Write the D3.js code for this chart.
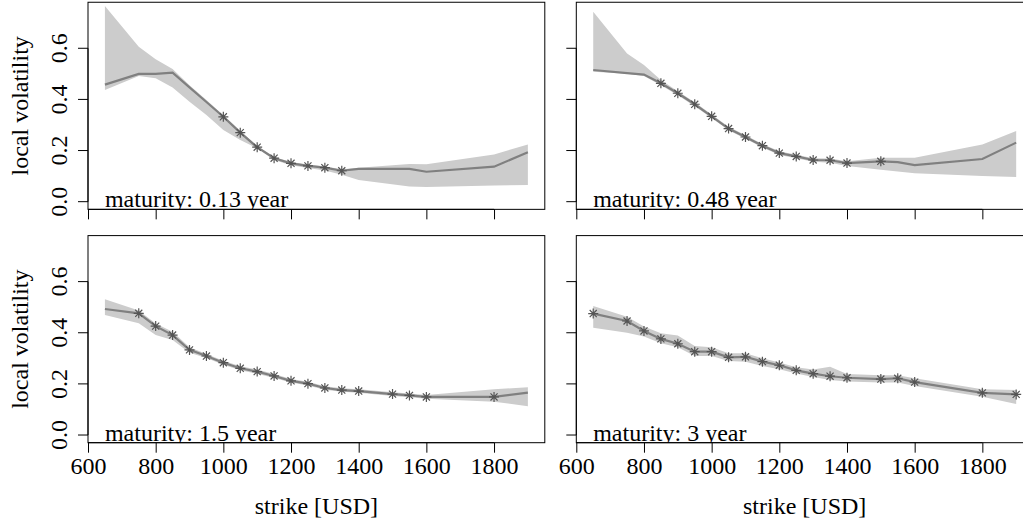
<!DOCTYPE html>
<html>
<head>
<meta charset="utf-8">
<script src="https://cdn.jsdelivr.net/npm/d3@7"></script>
<style>
  body { margin: 0; background: #fff; }
  svg text { font-family: "Liberation Serif", Tinos, "Times New Roman", "DejaVu Serif", serif !important; }
</style>
</head>
<body>
<div id="chart"></div>
<script>
var svgWidth = 1023;
var svgHeight = 523;
var serif = "'Liberation Serif', Tinos, 'Times New Roman', 'DejaVu Serif', serif";

// strikes and fitted local volatility, one set per maturity
var maturities = ["0.13", "0.48", "1.5", "3"];

var strikes1 = [650, 750, 800, 850, 900, 950, 1000, 1050, 1100, 1150, 1200, 1250, 1300, 1350, 1400, 1550, 1600, 1800, 1900];
var vol1   = [0.458, 0.500, 0.500, 0.505, 0.447, 0.390, 0.332, 0.270, 0.213, 0.170, 0.150, 0.140, 0.133, 0.121, 0.128, 0.128, 0.117, 0.137, 0.193];
var upper1 = [0.765, 0.606, 0.557, 0.519, 0.455, 0.398, 0.338, 0.277, 0.218, 0.175, 0.155, 0.145, 0.138, 0.127, 0.133, 0.147, 0.146, 0.185, 0.224];
var lower1 = [0.437, 0.492, 0.483, 0.447, 0.391, 0.339, 0.280, 0.241, 0.209, 0.163, 0.142, 0.132, 0.122, 0.105, 0.085, 0.059, 0.057, 0.063, 0.065];
var quotes1 = [1000, 1050, 1100, 1150, 1200, 1250, 1300, 1350];

var strikes2 = [650, 750, 800, 850, 900, 950, 1000, 1050, 1100, 1150, 1200, 1250, 1300, 1350, 1400, 1500, 1550, 1600, 1800, 1900];
var vol2   = [0.515, 0.503, 0.497, 0.463, 0.424, 0.381, 0.334, 0.286, 0.253, 0.219, 0.190, 0.177, 0.163, 0.162, 0.151, 0.158, 0.155, 0.143, 0.167, 0.231];
var upper2 = [0.743, 0.580, 0.535, 0.476, 0.432, 0.389, 0.341, 0.293, 0.260, 0.226, 0.197, 0.184, 0.170, 0.169, 0.158, 0.172, 0.172, 0.172, 0.224, 0.276];
var lower2 = [0.508, 0.500, 0.492, 0.455, 0.416, 0.373, 0.327, 0.279, 0.246, 0.212, 0.183, 0.170, 0.156, 0.152, 0.140, 0.125, 0.118, 0.111, 0.100, 0.097];
var quotes2 = [850, 900, 950, 1000, 1050, 1100, 1150, 1200, 1250, 1300, 1350, 1400, 1500];

var strikes3 = [650, 750, 800, 850, 900, 950, 1000, 1050, 1100, 1150, 1200, 1250, 1300, 1350, 1400, 1500, 1550, 1600, 1800, 1900];
var vol3   = [0.493, 0.476, 0.426, 0.391, 0.333, 0.309, 0.283, 0.261, 0.248, 0.231, 0.212, 0.201, 0.184, 0.176, 0.172, 0.160, 0.155, 0.149, 0.149, 0.166];
var upper3 = [0.531, 0.487, 0.436, 0.404, 0.343, 0.317, 0.291, 0.269, 0.256, 0.239, 0.219, 0.208, 0.191, 0.183, 0.179, 0.167, 0.162, 0.157, 0.179, 0.187];
var lower3 = [0.469, 0.437, 0.391, 0.372, 0.322, 0.301, 0.275, 0.253, 0.240, 0.223, 0.205, 0.194, 0.177, 0.169, 0.165, 0.153, 0.148, 0.142, 0.130, 0.113];
var quotes3 = [750, 800, 850, 900, 950, 1000, 1050, 1100, 1150, 1200, 1250, 1300, 1350, 1400, 1500, 1550, 1600, 1800];

var strikes4 = [650, 750, 800, 850, 900, 950, 1000, 1050, 1100, 1150, 1200, 1250, 1300, 1350, 1400, 1500, 1550, 1600, 1800, 1900];
var vol4   = [0.475, 0.446, 0.407, 0.376, 0.357, 0.326, 0.326, 0.304, 0.306, 0.287, 0.273, 0.253, 0.240, 0.230, 0.224, 0.219, 0.222, 0.207, 0.165, 0.159];
var upper4 = [0.505, 0.463, 0.424, 0.398, 0.389, 0.348, 0.343, 0.320, 0.320, 0.300, 0.284, 0.265, 0.256, 0.267, 0.239, 0.234, 0.234, 0.222, 0.179, 0.176];
var lower4 = [0.420, 0.400, 0.385, 0.359, 0.343, 0.309, 0.309, 0.290, 0.287, 0.270, 0.257, 0.241, 0.227, 0.215, 0.209, 0.205, 0.205, 0.192, 0.150, 0.121];
var quotes4 = strikes4.slice();

var xTicks = [600, 800, 1000, 1200, 1400, 1600, 1800];
var yTicks = [0.0, 0.2, 0.4, 0.6];

var panels = [
  {strikes: strikes1, vol: vol1, upper: upper1, lower: lower1, quotes: quotes1, col: 0, row: 0},
  {strikes: strikes2, vol: vol2, upper: upper2, lower: lower2, quotes: quotes2, col: 1, row: 0},
  {strikes: strikes3, vol: vol3, upper: upper3, lower: lower3, quotes: quotes3, col: 0, row: 1},
  {strikes: strikes4, vol: vol4, upper: upper4, lower: lower4, quotes: quotes4, col: 1, row: 1}
];

// plot region geometry
var plotWidth = 456.8;
var plotHeight = 207.1;
var colLeft = [88, 576.3];
var rowTop = [2.25, 235.6];

var svg = d3.select("#chart")
  .append("svg")
  .attr("width", svgWidth)
  .attr("height", svgHeight)
  .attr("font-family", serif);

var xScale = d3.scaleLinear().domain([600, 1950]).range([0, plotWidth]);
var yScale = d3.scaleLinear().domain([-0.03, 0.78]).range([plotHeight, 0]);

// asterisk like R's pch = 8
function star(r) {
  var d = r / Math.SQRT2;
  return `M${-r},0L${r},0M0,${-r}L0,${r}M${-d},${-d}L${d},${d}M${-d},${d}L${d},${-d}`;
}

panels.forEach(function(p, i) {
  var g = svg.append("g")
    .attr("transform", `translate(${colLeft[p.col]}, ${rowTop[p.row]})`);

  g.append("clipPath").attr("id", "clip" + i)
    .append("rect")
    .attr("width", plotWidth)
    .attr("height", plotHeight);

  var plot = g.append("g").attr("clip-path", `url(#clip${i})`);

  var rows = p.strikes.map(function(s, j) {
    return {s: s, v: p.vol[j], hi: p.upper[j], lo: p.lower[j]};
  });

  var area = d3.area()
    .x(d => xScale(d.s))
    .y0(d => yScale(d.lo))
    .y1(d => yScale(d.hi));

  plot.append("path")
    .datum(rows)
    .attr("d", area)
    .attr("fill", "#cccccc");

  var line = d3.line()
    .x(d => xScale(d.s))
    .y(d => yScale(d.v));

  plot.append("path")
    .datum(rows)
    .attr("d", line)
    .attr("fill", "none")
    .attr("stroke", "#808080")
    .attr("stroke-width", 2.2);

  var quoted = rows.filter(d => p.quotes.indexOf(d.s) >= 0);
  plot.selectAll(".star")
    .data(quoted)
    .enter()
    .append("path")
    .attr("class", "star")
    .attr("transform", d => `translate(${xScale(d.s)}, ${yScale(d.v)})`)
    .attr("d", star(5))
    .attr("fill", "none")
    .attr("stroke", "#555555")
    .attr("stroke-width", 1.2);

  plot.append("text")
    .attr("x", xScale(650))
    .attr("y", plotHeight - 2)
    .attr("font-family", serif)
    .style("font-size", "24px")
    .attr("fill", "#000")
    .text(`maturity: ${maturities[i]} year`);

  // box
  g.append("rect")
    .attr("width", plotWidth)
    .attr("height", plotHeight)
    .attr("fill", "none")
    .attr("stroke", "#000")
    .attr("stroke-width", 1);

  // axes
  var bottomAxis = d3.axisBottom(xScale)
    .tickValues(xTicks)
    .tickSize(10)
    .tickPadding(4)
    .tickFormat(p.row === 1 ? d3.format("d") : "");
  var xAxis = g.append("g")
    .attr("transform", `translate(0, ${plotHeight})`)
    .call(bottomAxis)
    .attr("font-family", serif);
  xAxis.select(".domain").attr("d", `M${xScale(600)},0H${xScale(1800)}`);
  xAxis.selectAll("text")
    .style("font-size", "24px")
    .attr("fill", "#000");

  var leftAxis = d3.axisLeft(yScale)
    .tickValues(yTicks)
    .tickSize(10)
    .tickFormat(p.col === 0 ? d3.format(".1f") : "");
  var yAxis = g.append("g").call(leftAxis)
    .attr("font-family", serif);
  yAxis.select(".domain").attr("d", `M0,${yScale(0)}V${yScale(0.6)}`);
  yAxis.selectAll(".tick").attr("transform", "translate(0,0)");
  yAxis.selectAll(".tick line")
    .attr("y1", d => yScale(d))
    .attr("y2", d => yScale(d));
  yAxis.selectAll(".tick text")
    .attr("transform", "rotate(-90)")
    .attr("x", d => -yScale(d))
    .attr("y", -21.3)
    .attr("dy", 0)
    .attr("text-anchor", "middle")
    .style("font-size", "24px")
    .attr("fill", "#000");

  if (p.col === 0) {
    g.append("text")
      .attr("transform", "rotate(-90)")
      .attr("x", -plotHeight / 2)
      .attr("y", -60)
      .attr("text-anchor", "middle")
      .style("font-size", "24px")
      .text("local volatility");
  }
  if (p.row === 1) {
    g.append("text")
      .attr("x", plotWidth / 2)
      .attr("y", plotHeight + 71.5)
      .attr("text-anchor", "middle")
      .style("font-size", "24px")
      .text("strike [USD]");
  }
});
</script>
</body>
</html>
